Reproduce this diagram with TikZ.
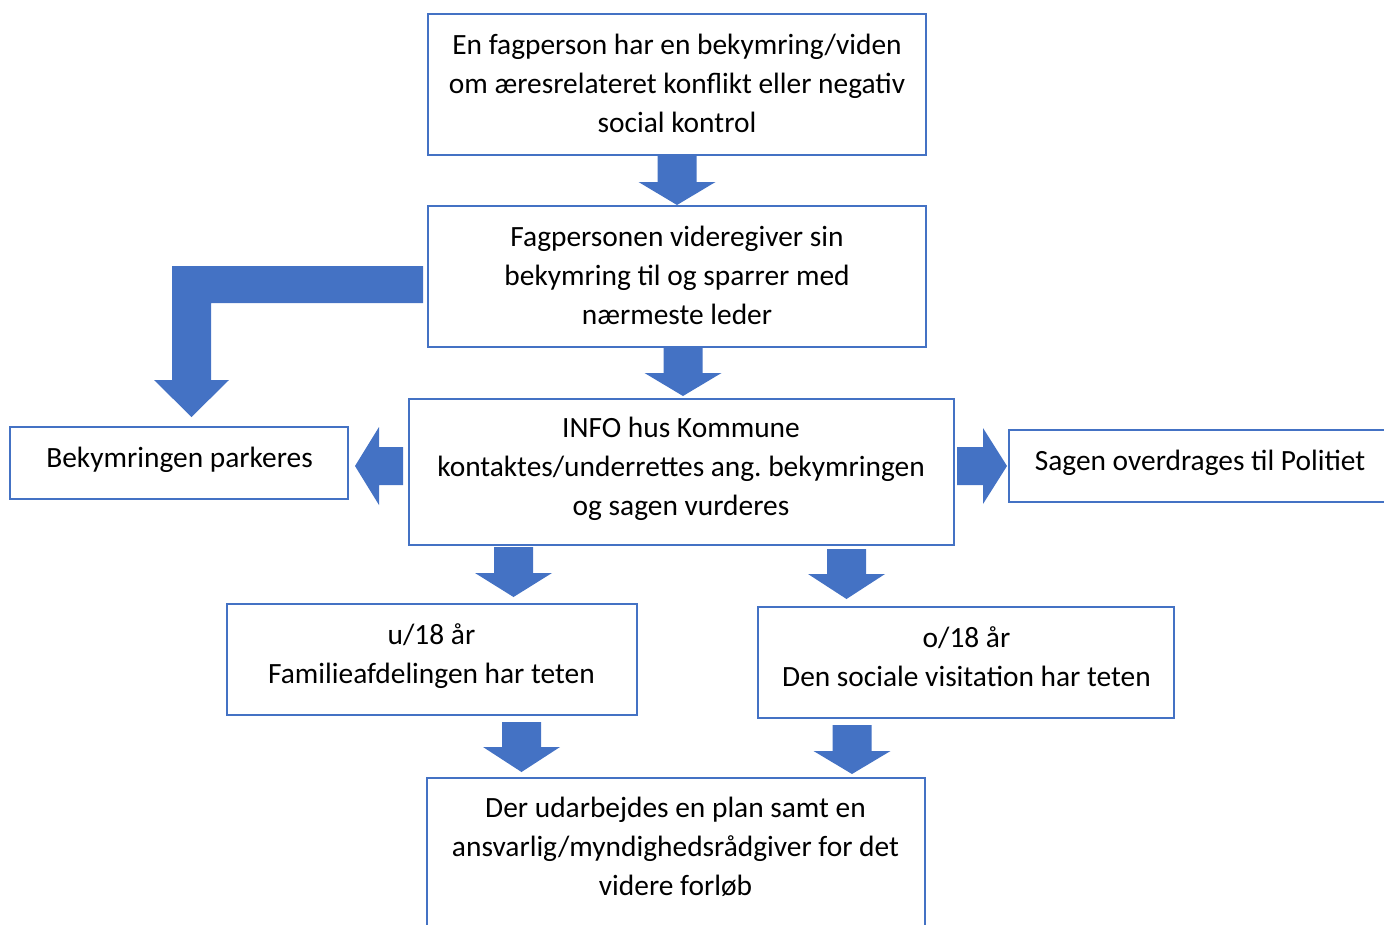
\documentclass[tikz,border=0pt]{standalone}
\usepackage{fontspec}
\setmainfont{Carlito}
\frenchspacing
\definecolor{bl}{HTML}{4472C4}
\tikzset{
  box/.style={draw=bl, line width=2.2pt, fill=white, inner sep=0pt},
  txt/.style={align=center, inner sep=0pt, font=\fontsize{29.4}{39}\selectfont\frenchspacing,
    execute at begin node=\strut, execute at end node=\strut},
  blockarrow/.style={fill=bl, draw=none}
}
\newcommand{\vblock}[4]{%
  \fill[blockarrow] (#1-19.5,#2) -- (#1+19.5,#2) -- (#1+19.5,#3) -- (#1+38.5,#3)
    -- (#1,#4) -- (#1-38.5,#3) -- (#1-19.5,#3) -- cycle;}
\begin{document}
\begin{tikzpicture}[x=1pt,y=-1pt]
\useasboundingbox (0,0) rectangle (1384,924);
% boxes
\node[box, minimum width=498pt, minimum height=141pt] (b1) at (677,84.5) {};
\node[box, minimum width=498pt, minimum height=141pt] (b2) at (677,276.5) {};
\node[box, minimum width=545pt, minimum height=146pt] (b3) at (681.5,472) {};
\node[box, minimum width=338pt, minimum height=72pt] (bl) at (179,463) {};
\node[box, minimum width=391pt, minimum height=72pt] (br) at (1204.5,466) {};
\node[box, minimum width=410pt, minimum height=111pt] (bu) at (432,659.5) {};
\node[box, minimum width=416pt, minimum height=111pt] (bo) at (966,662.5) {};
\node[box, minimum width=498pt, minimum height=162pt] (bb) at (676,859) {};
% texts
\node[txt] (t1) at (677,89) {En fagperson har en bekymring/viden\\om æresrelateret konflikt eller negativ\\social kontrol};
\node[txt] (t2) at (677,281) {Fagpersonen videregiver sin\\bekymring til og sparrer med\\nærmeste leder};
\node[txt] (t3) at (681,472) {INFO hus Kommune\\kontaktes/underrettes ang. bekymringen\\og sagen vurderes};
\node[txt] (tl) at (179.5,460) {Bekymringen parkeres};
\node[txt] (tr) at (1200,463) {Sagen overdrages til Politiet};
\node[txt] (tu) at (431.5,659) {u/18 år\\Familieafdelingen har teten};
\node[txt] (to) at (966.5,662) {o/18 år\\Den sociale visitation har teten};
\node[txt] (tb) at (675.5,852) {Der udarbejdes en plan samt en\\ansvarlig/myndighedsrådgiver for det\\videre forløb};
% block arrows
\vblock{677}{156}{182}{205}
\vblock{683}{348}{373}{396}
\vblock{513.5}{547}{573}{597}
\vblock{846.5}{549}{574}{599}
\vblock{521.5}{722}{747}{772}
\vblock{852}{725}{751}{774}
\fill[blockarrow] (423,266) -- (172,266) -- (172,380) -- (154,380) -- (191.5,417)
  -- (229,380) -- (211,380) -- (211,303) -- (423,303) -- cycle;
\fill[blockarrow] (403,447) -- (379,447) -- (379,427) -- (355,466) -- (379,505)
  -- (379,485) -- (403,485) -- cycle;
\fill[blockarrow] (957,447) -- (983,447) -- (983,428) -- (1007,466) -- (983,504)
  -- (983,485) -- (957,485) -- cycle;
\end{tikzpicture}
\end{document}
